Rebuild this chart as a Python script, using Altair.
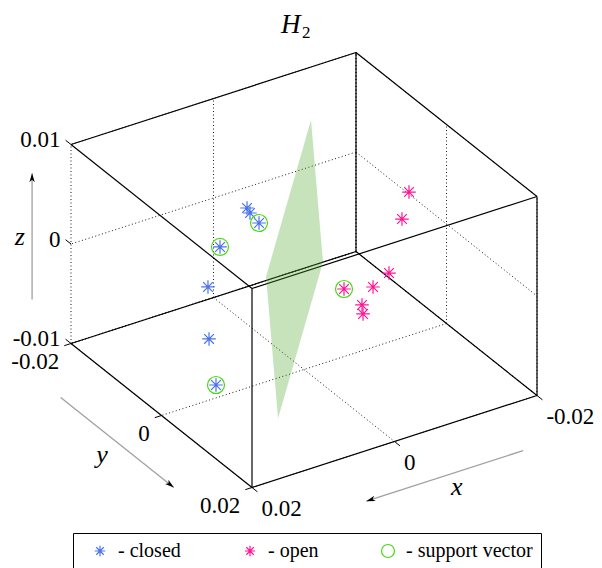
import itertools
import altair as alt
import pandas as pd

# ---------------- data ----------------
x_dom = [-0.02, 0.02]
y_dom = [-0.02, 0.02]
z_dom = [-0.01, 0.01]
x_ticks = [-0.02, 0.0, 0.02]
y_ticks = [-0.02, 0.0, 0.02]
z_ticks = [-0.01, 0.0, 0.01]
x_tick_labels = ["-0.02", "0", "0.02"]
y_tick_labels = ["-0.02", "0", "0.02"]
z_tick_labels = ["-0.01", "0", "0.01"]

closed_x = [-0.00309, -0.00476, -0.00524, 0.01280, 0.00872, 0.01314, 0.01815]
closed_y = [-0.01746, -0.01943, -0.01819, 0.00159, -0.00749, -0.00030, 0.00913]
closed_z = [-0.00080, -0.00240, -0.00307, 0.00585, -0.00240, -0.00400, -0.00406]
closed_sv = [False, False, True, True, False, False, True]

open_x = [-0.01727, -0.01518, -0.00511, -0.00276, 0.00005, -0.00440, -0.00537]
open_y = [-0.00399, -0.00225, 0.01074, 0.01091, 0.00892, 0.00589, 0.00459]
open_z = [0.00240, 0.00080, 0.00240, 0.00160, 0.00133, -0.00240, -0.00400]
open_sv = [False, False, False, False, True, False, False]

# separating plane patch (corners, in order)
plane_x = [-0.01037, -0.01205, 0.01209, 0.01377]
plane_y = [-0.01478, -0.01478, 0.01330, 0.01330]
plane_z = [0.00733, -0.00733, -0.00733, 0.00733]

legend_labels = ["- closed", "- open", "- support vector"]
axis_names = ["x", "y", "z"]
title_main = "H"
title_sub = "2"

# axis direction arrows (start / end) and axis-name anchors, data units
arrow_start = {"x": (-0.0117, 0.0300, -0.01), "y": (0.0278, -0.0100, -0.01), "z": (0.02, -0.0286, -0.0087)}
arrow_end = {"x": (0.0103, 0.0300, -0.01), "y": (0.0278, 0.0150, -0.01), "z": (0.02, -0.0286, 0.0040)}
axis_name_pos = {"x": (-0.0005, 0.0330, -0.01), "y": (0.0309, 0.0040, -0.01), "z": (0.02, -0.0313, -0.0034)}

# ---------------- style ----------------
BLUE = "#4a72e8"
PINK = "#ff1493"
GREEN = "#47d916"
PLANE = "#4da82e"
FONT = "'Liberation Serif', 'Times New Roman', Times, serif"
AST = "M-0.8,0L0.8,0M0,-0.8L0,0.8M-0.57,-0.57L0.57,0.57M-0.57,0.57L0.57,-0.57"
HEAD = "M0,0L0.45,1.5L0,1.1L-0.45,1.5Z"

# orthographic view projection (screen units per data unit)
PX = (-7125.0, 4525.0, 0.0)
PY = (2300.0, 3600.0, -9950.0)
xs = alt.Scale(domain=[-304, 298], nice=False, zero=False)
ys = alt.Scale(domain=[-270, 298], nice=False, zero=False, reverse=True)


def proj(chart, sufs=("",)):
    calc = {}
    for s in sufs:
        calc["sx" + s] = f"{PX[0]}*datum.x{s} + {PX[1]}*datum.y{s} + {PX[2]}*datum.z{s}"
        calc["sy" + s] = f"{PY[0]}*datum.x{s} + {PY[1]}*datum.y{s} + {PY[2]}*datum.z{s}"
    return chart.transform_calculate(**calc)


X = alt.X("sx:Q", scale=xs, axis=None)
Y = alt.Y("sy:Q", scale=ys, axis=None)
X2 = alt.X2("sx2:Q")
Y2 = alt.Y2("sy2:Q")

xmin, xmax = x_dom
ymin, ymax = y_dom
zmin, zmax = z_dom

# box edges
corners = list(itertools.product(x_dom, y_dom, z_dom))
solid = []
for a, b in itertools.combinations(corners, 2):
    if sum(a[i] != b[i] for i in range(3)) == 1:
        if a[0] == b[0] == xmax and a[1] == b[1] == ymin:
            continue  # drawn by the grid (dotted)
        solid.append(a + b)

# grid lines on the three back planes
grid = []
for xt in x_ticks:
    grid.append((xt, ymin, zmin, xt, ymin, zmax))
    grid.append((xt, ymin, zmin, xt, ymax, zmin))
for yt in y_ticks:
    grid.append((xmin, yt, zmin, xmin, yt, zmax))
    grid.append((xmin, yt, zmin, xmax, yt, zmin))
for zt in z_ticks:
    grid.append((xmin, ymin, zt, xmax, ymin, zt))
    grid.append((xmin, ymin, zt, xmin, ymax, zt))

cols = ["x", "y", "z", "x2", "y2", "z2"]
TLX = 0.00095
TLY = 0.0012
ticks = []
ticks += [(xmax, ymin, zt, xmax, ymin - TLY, zt) for zt in z_ticks]
ticks += [(xmax, yt, zmin, xmax + TLX, yt, zmin) for yt in y_ticks]
ticks += [(xt, ymax, zmin, xt, ymax + TLY, zmin) for xt in x_ticks]

grid_layer = proj(alt.Chart(pd.DataFrame(grid, columns=cols)), ("", "2")).mark_rule(
    color="#1a1a1a", strokeWidth=1, strokeDash=[1, 2.5]).encode(x=X, y=Y, x2=X2, y2=Y2)
edge_layer = proj(alt.Chart(pd.DataFrame(solid, columns=cols)), ("", "2")).mark_rule(
    color="black", strokeWidth=1.2).encode(x=X, y=Y, x2=X2, y2=Y2)
tick_layer = proj(alt.Chart(pd.DataFrame(ticks, columns=cols)), ("", "2")).mark_rule(
    color="black", strokeWidth=1).encode(x=X, y=Y, x2=X2, y2=Y2)

# plane
pdf = pd.DataFrame({"x": plane_x + plane_x[:1], "y": plane_y + plane_y[:1],
                    "z": plane_z + plane_z[:1], "k": list(range(5))})
plane_layer = proj(alt.Chart(pdf)).mark_line(
    filled=True, fill=PLANE, fillOpacity=0.32, strokeOpacity=0).encode(
    x=X, y=Y, order=alt.Order("k:Q"))

# points
rows = []
for xx, yy, zz in zip(closed_x, closed_y, closed_z):
    rows.append((xx, yy, zz, legend_labels[0]))
for xx, yy, zz in zip(open_x, open_y, open_z):
    rows.append((xx, yy, zz, legend_labels[1]))
for xx, yy, zz, s in zip(closed_x + open_x, closed_y + open_y, closed_z + open_z, closed_sv + open_sv):
    if s:
        rows.append((xx, yy, zz, legend_labels[2]))
ptdf = pd.DataFrame(rows, columns=["x", "y", "z", "cat"])

leg = alt.Legend(title=" ", titleOrient="left", titleFontSize=1, titlePadding=9,
                 orient="none", legendX=73, legendY=533, direction="horizontal",
                 padding=8, strokeColor="black", fillColor="white",
                 labelFont=FONT, labelFontSize=20, labelColor="black",
                 symbolSize=169, labelOffset=8, columnPadding=59)
point_layer = proj(alt.Chart(ptdf)).mark_point(filled=False, size=289, opacity=1).encode(
    x=X, y=Y,
    color=alt.Color("cat:N", scale=alt.Scale(domain=legend_labels, range=[BLUE, PINK, GREEN]), legend=leg),
    shape=alt.Shape("cat:N", scale=alt.Scale(domain=legend_labels, range=[AST, AST, "circle"]), legend=leg),
    strokeWidth=alt.StrokeWidth("cat:N", scale=alt.Scale(domain=legend_labels, range=[1.2, 1.2, 2.4]), legend=leg),
)

# tick labels
def lab_df(pts, labels):
    return pd.DataFrame([(p[3], p[4], p[5], l) for p, l in zip(pts, labels)],
                        columns=["x", "y", "z", "label"])

zl = lab_df(ticks[0:3], z_tick_labels)
yl = lab_df(ticks[3:6], y_tick_labels)
xl = lab_df(ticks[6:9], x_tick_labels)
txt = dict(font=FONT, fontSize=23, color="black", baseline="middle")
zlab = proj(alt.Chart(zl)).mark_text(align="right", dx=-5, dy=0, **txt).encode(x=X, y=Y, text="label:N")
ylab = proj(alt.Chart(yl)).mark_text(align="right", dx=-5, dy=16, **txt).encode(x=X, y=Y, text="label:N")
xlab = proj(alt.Chart(xl)).mark_text(align="left", dx=4, dy=17, **txt).encode(x=X, y=Y, text="label:N")

# axis arrows
arr = pd.DataFrame([arrow_start[n] + arrow_end[n] for n in axis_names], columns=cols)
arrow_layer = proj(alt.Chart(arr), ("", "2")).mark_rule(color="#a0a0a0", strokeWidth=1.3).encode(
    x=X, y=Y, x2=X2, y2=Y2)
head_layer = proj(alt.Chart(arr), ("", "2")).transform_calculate(
    ang="(atan2(datum.sx2 - datum.sx, -(datum.sy2 - datum.sy)) * 180 / PI + 360) % 360"
).mark_point(shape=HEAD, filled=True, color="black", size=144, opacity=1).encode(
    x=alt.X("sx2:Q", scale=xs, axis=None), y=alt.Y("sy2:Q", scale=ys, axis=None),
    angle=alt.Angle("ang:Q", scale=None))
ndf = pd.DataFrame([axis_name_pos[n] + (n,) for n in axis_names], columns=["x", "y", "z", "name"])
name_layer = proj(alt.Chart(ndf)).mark_text(font=FONT, fontSize=26, fontStyle="italic",
                                             color="black", align="center", baseline="middle").encode(
    x=X, y=Y, text="name:N")

# title H_2
t1 = alt.Chart(pd.DataFrame({"t": [title_main]})).mark_text(
    font=FONT, fontSize=27, fontStyle="italic", color="black", align="left", baseline="alphabetic").encode(
    x=alt.value(281), y=alt.value(33), text="t:N")
t2 = alt.Chart(pd.DataFrame({"t": [title_sub]})).mark_text(
    font=FONT, fontSize=17, color="black", align="left", baseline="alphabetic").encode(
    x=alt.value(302), y=alt.value(38), text="t:N")

chart = alt.layer(
    grid_layer, edge_layer, tick_layer, plane_layer, arrow_layer, head_layer,
    point_layer, zlab, ylab, xlab, name_layer, t1, t2
).properties(
    width=602, height=568, autosize=alt.AutoSizeParams(type="none"), padding=0, background="white"
).configure_view(stroke=None)

chart.save("out.html", embed_options={"renderer": "svg", "actions": False})
